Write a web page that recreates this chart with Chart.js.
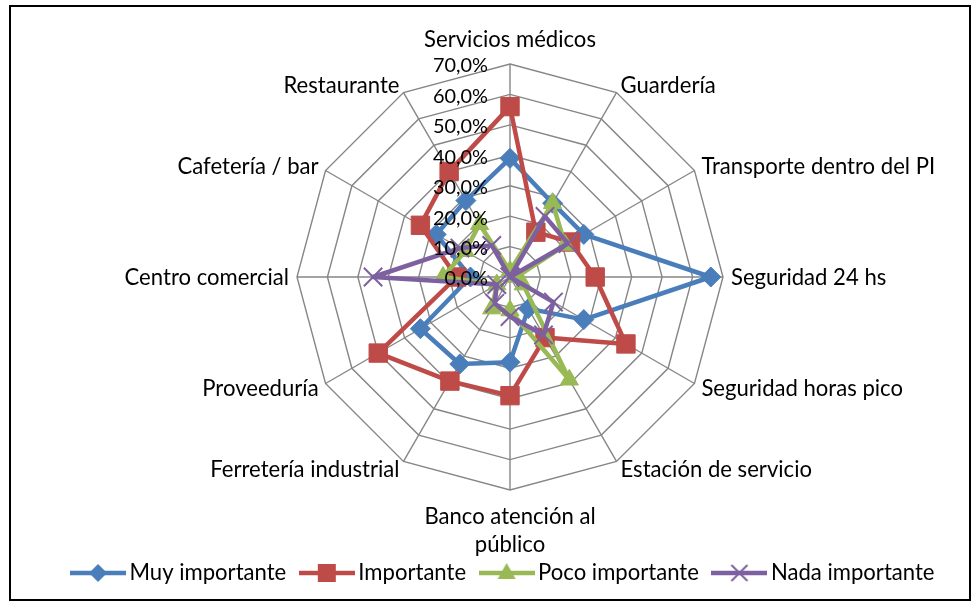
<!DOCTYPE html>
<html>
<head>
<meta charset="utf-8">
<script src="https://cdn.jsdelivr.net/npm/chart.js@4.4.0/dist/chart.umd.min.js"></script>
<style>
  body { margin: 0; background: #fff; }
  #wrap { position: relative; width: 978px; height: 608px; }
  #frame { position: absolute; left: 9px; top: 5px; width: 958px; height: 592px; border: 2px solid #000; }
  canvas { position: absolute; left: 0; top: 0; }
</style>
</head>
<body>
<div id="wrap">
  <div id="frame"></div>
  <canvas id="chart" width="978" height="608"></canvas>
</div>
<script>
// categories, clockwise from the top
const categories = [
  "Servicios médicos", "Guardería", "Transporte dentro del PI", "Seguridad 24 hs",
  "Seguridad horas pico", "Estación de servicio", ["Banco atención al", "público"],
  "Ferretería industrial", "Proveeduría", "Centro comercial", "Cafetería / bar", "Restaurante"
];

// series values in percent
const muyImportante = [39, 28, 28, 66, 28, 12, 28, 33, 34, 13, 28, 29];
const importante = [56, 17, 23, 28, 44, 23, 39, 39.5, 50, 17.5, 34, 40];
const pocoImportante = [2, 28, 21, 2, 5, 39, 11, 12, 5, 22, 17, 20];
const nadaImportante = [0, 23, 22, 0, 16.5, 22, 13, 10, 5, 45, 19, 12];

const seriesNames = ["Muy importante", "Importante", "Poco importante", "Nada importante"];
const tickValues = [0, 10, 20, 30, 40, 50, 60, 70];

const FAMILY = "Lato, 'Open Sans', sans-serif";

function fitFontSize(text, targetWidth) {
  const c = document.createElement("canvas").getContext("2d");
  c.font = `100px ${FAMILY}`;
  return Math.round((1000 * targetWidth) / c.measureText(text).width) / 10;
}

const labelSize = fitFontSize("Servicios médicos", 172);
const tickSize = fitFontSize("70,0%", 55);
const legendSize = fitFontSize("Muy importante", 157);

function formatTick(v) {
  return v.toFixed(1).replace(".", ",") + "%";
}

// small line + marker picture for the legend
function legendSymbol(color, style) {
  const c = document.createElement("canvas");
  c.width = 56;
  c.height = 26;
  const g = c.getContext("2d");
  const cx = 28, cy = 13;
  g.strokeStyle = color;
  g.fillStyle = color;
  g.lineWidth = 4.5;
  g.beginPath();
  g.moveTo(0, cy);
  g.lineTo(56, cy);
  g.stroke();
  g.beginPath();
  if (style === "rectRot") {
    g.moveTo(cx, cy - 9); g.lineTo(cx + 9, cy); g.lineTo(cx, cy + 9); g.lineTo(cx - 9, cy);
    g.closePath(); g.fill();
  } else if (style === "rect") {
    g.fillRect(cx - 9, cy - 9, 18, 18);
  } else if (style === "triangle") {
    g.moveTo(cx, cy - 10); g.lineTo(cx + 9, cy + 6); g.lineTo(cx - 9, cy + 6);
    g.closePath(); g.fill();
  } else {
    g.lineWidth = 2;
    g.moveTo(cx - 8, cy - 8); g.lineTo(cx + 8, cy + 8);
    g.moveTo(cx + 8, cy - 8); g.lineTo(cx - 8, cy + 8);
    g.stroke();
  }
  return c;
}

const colors = ["#4A7EBB", "#BE4B48", "#98B954", "#7D60A0"];
const styles = ["rectRot", "rect", "triangle", "crossRot"];
const radii = [10, 13, 10.5, 13];
const legendSymbols = colors.map((c, i) => legendSymbol(c, styles[i]));

const textPlugin = {
  id: "radarText",
  afterDraw(chart) {
    const scale = chart.scales.r;
    const ctx = chart.ctx;
    ctx.save();
    ctx.fillStyle = "#000";
    ctx.font = `${labelSize}px ${FAMILY}`;
    ctx.textBaseline = "middle";
    const n = categories.length;
    categories.forEach((label, i) => {
      const pos = scale.getPointPosition(i, scale.drawingArea + 8);
      const angle = (i * 360) / n;
      const lines = [].concat(label);
      if (angle === 0) {
        ctx.textAlign = "center";
        ctx.fillText(lines[0], pos.x, pos.y - 16);
      } else if (angle === 180) {
        ctx.textAlign = "center";
        lines.forEach((l, k) => ctx.fillText(l, pos.x, pos.y + 19 + k * 28));
      } else {
        ctx.textAlign = angle < 180 ? "left" : "right";
        const dy = angle > 90 && angle < 270 ? 1.5 : 0.5;
        ctx.fillText(lines[0], pos.x, pos.y + dy);
      }
    });
    ctx.font = `${tickSize}px ${FAMILY}`;
    ctx.textAlign = "right";
    tickValues.forEach((v) => {
      const y = scale.yCenter - scale.getDistanceFromCenterForValue(v);
      ctx.fillText(formatTick(v), scale.xCenter - 22, y + 2);
    });
    ctx.restore();
  }
};

const seriesData = [muyImportante, importante, pocoImportante, nadaImportante];

new Chart(document.getElementById("chart"), {
  type: "radar",
  data: {
    labels: categories,
    datasets: seriesData.map((data, i) => ({
      label: seriesNames[i],
      data: data,
      borderColor: colors[i],
      backgroundColor: colors[i],
      borderWidth: 4.5,
      borderJoinStyle: "round",
      fill: false,
      pointStyle: styles[i],
      pointRadius: radii[i],
      pointHoverRadius: radii[i],
      pointBackgroundColor: colors[i],
      pointBorderColor: colors[i],
      pointBorderWidth: i === 3 ? 2 : 1,
      order: 4 - i
    }))
  },
  options: {
    responsive: false,
    devicePixelRatio: 1,
    animation: false,
    layout: { padding: { left: 34, bottom: 14 } },
    scales: {
      r: {
        min: 0,
        max: 70,
        ticks: { stepSize: 10, display: false },
        grid: { color: "#868686", lineWidth: 1.4 },
        angleLines: { color: "#868686", lineWidth: 1.4 },
        pointLabels: { display: false },
        afterFit: (scale) => {
          scale.xCenter = 510;
          scale.yCenter = 277;
          scale.drawingArea = 213;
        }
      }
    },
    plugins: {
      tooltip: { enabled: false },
      legend: {
        position: "bottom",
        labels: {
          usePointStyle: true,
          pointStyleWidth: 41,
          padding: 20,
          color: "#000",
          font: { family: FAMILY, size: legendSize },
          generateLabels: (chart) =>
            chart.data.datasets.map((ds, i) => ({
              text: ds.label,
              pointStyle: legendSymbols[i],
              fillStyle: ds.borderColor,
              strokeStyle: ds.borderColor,
              lineWidth: 0,
              fontColor: "#000",
              hidden: !chart.isDatasetVisible(i),
              datasetIndex: i
            }))
        }
      }
    }
  },
  plugins: [textPlugin]
});
</script>
</body>
</html>
